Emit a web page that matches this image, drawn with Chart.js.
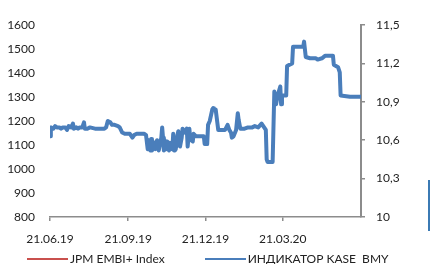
<!DOCTYPE html>
<html>
<head>
<meta charset="utf-8">
<script src="https://cdn.jsdelivr.net/npm/chart.js@4/dist/chart.umd.min.js"></script>
<style>
  html, body { margin: 0; padding: 0; background: #fff; }
  #wrap { position: relative; width: 430px; height: 264px; overflow: hidden; }
  #legend {
    position: absolute; left: 27px; top: 251px;
    display: flex; align-items: center;
    font-family: Lato, "Open Sans", sans-serif; font-size: 12px; color: #222;
    white-space: pre;
  }
  .item { display: flex; align-items: center; margin-right: 40px; }
  .swatch { width: 41px; height: 2px; margin-right: 2px; }
  #edge { position: absolute; left: 428px; top: 180px; width: 2px; height: 51px; background: #3b7ab4; }
</style>
</head>
<body>
<div id="wrap">
  <canvas id="chart" width="430" height="264"></canvas>
  <div id="legend"></div>
  <div id="edge"></div>
</div>
<script>
// Series labels
const seriesNames = ['JPM EMBI+ Index', 'ИНДИКАТОР KASE  BMY'];

// x = days since 21.06.19
const tickDays = [0, 92, 183, 274];
const tickLabels = ['21.06.19', '21.09.19', '21.12.19', '21.03.20'];

// JPM EMBI+ Index (left axis) - not visible in the picture
const embiDays = [];
const embiValues = [];

// KASE indicator (right axis)
const kaseDays = [
  0, 1, 4, 6, 8, 11, 13, 15, 18, 20, 22, 25, 27, 28, 31, 33, 35, 38, 40, 41,
  44, 47, 53, 59, 64, 66, 68, 71, 73, 76, 80, 82, 85, 88, 92, 94, 97, 99, 102, 106,
  111, 113, 115, 116, 118, 119, 120, 121, 124, 126, 128, 131, 132, 133, 134, 135, 137, 138, 140, 141,
  144, 145, 146, 147, 148, 150, 151, 153, 155, 156, 159, 161, 162, 164, 165, 166, 168, 169, 172, 177,
  181, 182, 185, 186, 188, 191, 192, 193, 195, 198, 201, 206, 209, 211, 213, 214, 216, 219, 221, 222,
  224, 229, 233, 238, 241, 245, 249, 252, 254, 255, 256, 262, 264, 266, 268, 271, 272, 273, 278, 279,
  285, 286, 294, 298, 299, 301, 306, 313, 315, 320, 324, 333, 334, 339, 341, 342, 353, 366
];
const kaseValues = [
  10.63, 10.70, 10.69, 10.71, 10.70, 10.70, 10.69, 10.70, 10.70, 10.68, 10.71, 10.70, 10.73, 10.69, 10.70, 10.69, 10.70, 10.70, 10.74, 10.69,
  10.69, 10.70, 10.69, 10.69, 10.69, 10.70, 10.75, 10.74, 10.72, 10.72, 10.71, 10.70, 10.66, 10.65, 10.65, 10.65, 10.62, 10.64, 10.65, 10.65,
  10.65, 10.64, 10.53, 10.60, 10.52, 10.61, 10.52, 10.59, 10.53, 10.60, 10.52, 10.62, 10.70, 10.62, 10.52, 10.60, 10.53, 10.59, 10.52, 10.58,
  10.53, 10.65, 10.52, 10.60, 10.53, 10.64, 10.67, 10.55, 10.62, 10.69, 10.66, 10.69, 10.55, 10.69, 10.62, 10.60, 10.59, 10.65, 10.63, 10.63,
  10.63, 10.57, 10.57, 10.72, 10.75, 10.84, 10.85, 10.84, 10.84, 10.68, 10.68, 10.68, 10.72, 10.68, 10.66, 10.62, 10.63, 10.68, 10.81, 10.76,
  10.69, 10.69, 10.70, 10.70, 10.71, 10.70, 10.73, 10.70, 10.68, 10.45, 10.43, 10.43, 10.98, 10.88, 10.95, 11.02, 10.88, 10.95, 10.95, 11.18,
  11.20, 11.33, 11.33, 11.33, 11.37, 11.25, 11.24, 11.24, 11.23, 11.24, 11.26, 11.26, 11.19, 11.17, 11.13, 10.95, 10.94, 10.94
];

const leftTicks = { min: 800, max: 1600, step: 100 };
const rightTicks = { min: 10, max: 11.5, step: 0.3 };

const FONT = { family: 'Lato, "Open Sans", sans-serif', size: 12 };
const TEXT = '#222';
const AXIS = '#8c8c8c';

function toPoints(days, values) {
  return days.map((d, i) => ({ x: d, y: values[i] }));
}

const chart = new Chart(document.getElementById('chart'), {
  type: 'line',
  data: {
    datasets: [
      {
        label: seriesNames[0],
        data: toPoints(embiDays, embiValues),
        yAxisID: 'y',
        borderColor: '#c9504d',
        borderWidth: 2,
        pointRadius: 0
      },
      {
        label: seriesNames[1],
        data: toPoints(kaseDays, kaseValues),
        yAxisID: 'y2',
        borderColor: '#4a7ebb',
        borderWidth: 4,
        borderJoinStyle: 'round',
        borderCapStyle: 'round',
        pointRadius: 0,
        tension: 0
      }
    ]
  },
  options: {
    responsive: false,
    animation: false,
    events: [],
    layout: { padding: { top: 25, left: 8, right: 0, bottom: 0 } },
    plugins: { legend: { display: false }, tooltip: { enabled: false } },
    scales: {
      x: {
        type: 'linear',
        min: 0,
        max: 366,
        afterBuildTicks: scale => { scale.ticks = tickDays.map(v => ({ value: v })); },
        afterFit: scale => { scale.height = 47; },
        ticks: {
          font: FONT, color: TEXT, padding: 11, maxRotation: 0, autoSkip: false,
          callback: (v, i) => tickLabels[i]
        },
        grid: { drawOnChartArea: false, drawTicks: true, tickLength: 4, color: AXIS, lineWidth: 1.5 },
        border: { display: true, color: AXIS, width: 1.5 }
      },
      y: {
        position: 'left',
        min: leftTicks.min,
        max: leftTicks.max,
        afterFit: scale => { scale.width = 42; },
        ticks: { stepSize: leftTicks.step, font: FONT, color: TEXT, padding: 15, callback: v => String(v) },
        grid: { display: false, drawTicks: false },
        border: { display: false }
      },
      y2: {
        position: 'right',
        min: rightTicks.min,
        max: rightTicks.max,
        afterFit: scale => { scale.width = 69; },
        ticks: {
          stepSize: rightTicks.step, font: FONT, color: TEXT, padding: 11,
          callback: v => String(Number(v.toFixed(1))).replace('.', ',')
        },
        grid: { drawOnChartArea: false, drawTicks: true, tickLength: 4, color: AXIS, lineWidth: 1.5 },
        border: { display: true, color: AXIS, width: 2 }
      }
    }
  }
});

// HTML legend built from the datasets
const legendEl = document.getElementById('legend');
chart.data.datasets.forEach(ds => {
  const item = document.createElement('div');
  item.className = 'item';
  const sw = document.createElement('span');
  sw.className = 'swatch';
  sw.style.background = ds.borderColor;
  const txt = document.createElement('span');
  txt.textContent = ds.label;
  item.appendChild(sw);
  item.appendChild(txt);
  legendEl.appendChild(item);
});
</script>
</body>
</html>
